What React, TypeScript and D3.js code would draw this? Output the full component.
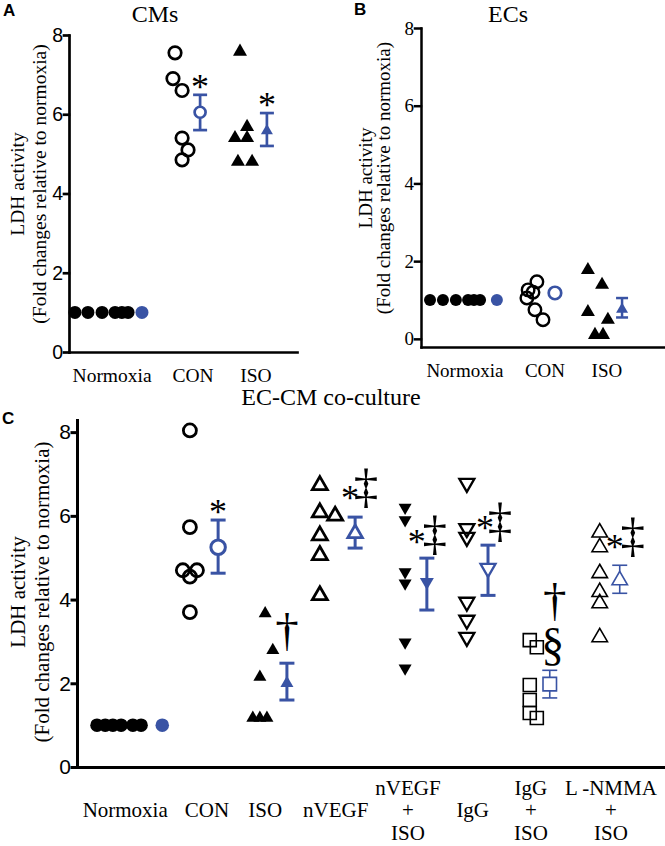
import React, { useEffect, useRef } from 'react';
import * as d3 from 'd3';

const BLUE = '#3953a4';
const SERIF = '"Liberation Serif", "Times New Roman", serif';
const SANS = '"Liberation Sans", Arial, sans-serif';

const yTicks = [0, 2, 4, 6, 8];

// ---------- Panel A: CMs ----------
const cmsLabels = [['Normoxia'], ['CON'], ['ISO']];
const cmsLabelX = [1.89, 5.44, 8.2];
const cmsNormoxiaX = [0.26, 0.83, 1.45, 2.02, 2.32, 2.59];
const cmsNormoxiaY = [1, 1, 1, 1, 1, 1];
const cmsConX = [4.65, 4.56, 4.96, 4.96, 5.22, 4.96];
const cmsConY = [7.55, 6.9, 6.6, 5.4, 5.1, 4.85];
const cmsIsoX = [7.5, 7.81, 7.28, 7.81, 7.41, 8.03];
const cmsIsoY = [7.58, 5.68, 5.4, 5.4, 4.8, 4.8];
const cmsMeanX = [3.2, 5.75, 8.68];
const cmsMeanY = [1.0, 6.05, 5.58];
const cmsErrLow = [1.0, 5.6, 5.2];
const cmsErrHigh = [1.0, 6.49, 6.03];

// ---------- Panel B: ECs ----------
const ecsLabels = [['Normoxia'], ['CON'], ['ISO']];
const ecsLabelX = [1.8, 5.08, 7.62];
const ecsNormoxiaX = [0.37, 0.9, 1.43, 1.93, 2.17, 2.42];
const ecsNormoxiaY = [1, 1, 1, 1, 1, 1];
const ecsConX = [4.75, 4.39, 4.59, 4.34, 4.67, 5.0];
const ecsConY = [1.47, 1.26, 1.2, 1.05, 0.75, 0.49];
const ecsIsoX = [6.84, 7.42, 6.84, 7.13, 7.46, 7.66];
const ecsIsoY = [1.77, 1.39, 0.69, 0.1, 0.1, 0.49];
const ecsMeanX = [3.11, 5.49, 8.24];
const ecsMeanY = [1.0, 1.18, 0.76];
const ecsErrLow = [1.0, 1.12, 0.55];
const ecsErrHigh = [1.0, 1.24, 1.05];

// ---------- Panel C: EC-CM co-culture ----------
const coLabels = [['Normoxia'], ['CON'], ['ISO'], ['nVEGF'], ['nVEGF', '+', 'ISO'], ['IgG'], ['IgG', '+', 'ISO'], ['L -NMMA', '+', 'ISO']];
const coLabelX = [0.82, 2.21, 3.2, 4.4, 5.63, 6.73, 7.72, 9.08];
const coNormoxiaX = [0.34, 0.48, 0.61, 0.75, 0.95, 1.09];
const coNormoxiaY = [1, 1, 1, 1, 1, 1];
const coConX = [1.92, 1.92, 1.8, 1.92, 2.04, 1.92];
const coConY = [8.04, 5.73, 4.7, 4.55, 4.7, 3.7];
const coIsoX = [3.2, 3.33, 3.11, 2.99, 3.11, 3.23];
const coIsoY = [3.67, 2.79, 2.15, 1.17, 1.17, 1.17];
const coVegfX = [4.13, 4.13, 4.39, 4.13, 4.13, 4.13];
const coVegfY = [6.73, 6.08, 6.0, 5.53, 5.06, 4.1];
const coVegfIsoX = [5.58, 5.58, 5.58, 5.58, 5.58, 5.58];
const coVegfIsoY = [6.2, 5.9, 4.66, 4.39, 2.98, 2.36];
const coIggX = [6.63, 6.63, 6.63, 6.63, 6.63, 6.63];
const coIggY = [6.78, 5.7, 5.49, 3.94, 3.51, 3.1];
const coIggIsoX = [7.7, 7.82, 7.7, 7.7, 7.7, 7.82];
const coIggIsoY = [3.03, 2.86, 1.96, 1.6, 1.29, 1.17];
const coNmmaX = [8.89, 8.89, 8.89, 8.89, 8.89, 8.89];
const coNmmaY = [5.6, 5.25, 4.63, 4.18, 3.91, 3.1];
const coMeanX = [1.45, 2.4, 3.57, 4.73, 5.95, 6.99, 8.04, 9.23];
const coMeanY = [1.0, 5.25, 2.0, 5.58, 4.42, 4.75, 1.98, 4.46];
const coErrLow = [1.0, 4.63, 1.6, 5.23, 3.75, 4.1, 1.65, 4.15];
const coErrHigh = [1.0, 5.9, 2.48, 5.97, 4.99, 5.3, 2.31, 4.82];

// marker styles
const dotA = { shape: 'circle', fill: true, size: 13 };
const ringA = { shape: 'circle', fill: false, size: 12.5, stroke: 2.7 };
const triA = { shape: 'triangle', fill: true, size: 14 };
const dotB = { shape: 'circle', fill: true, size: 12 };
const ringB = { shape: 'circle', fill: false, size: 12.5, stroke: 2.4 };
const triB = { shape: 'triangle', fill: true, size: 14 };
const dotC = { shape: 'circle', fill: true, size: 13.5 };
const ringC = { shape: 'circle', fill: false, size: 13, stroke: 2.8 };
const triC = { shape: 'triangle', fill: true, size: 13 };
const openTriC = { shape: 'triangle', fill: false, size: 15, stroke: 2.8 };
const downC = { shape: 'triangle', down: true, fill: true, size: 13 };
const openDownC = { shape: 'triangle', down: true, fill: false, size: 15, stroke: 2.3 };
const squareC = { shape: 'square', fill: false, size: 13, stroke: 1.6 };
const thinTriC = { shape: 'triangle', fill: false, size: 15.5, stroke: 1.6 };

const panels = [
  {
    title: 'CMs', titleX: 155, titleY: 22, titleSize: 24,
    letter: 'A', letterX: 3, letterY: 16,
    xRange: [69, 297], yDomain: [0, 8], yRange: [352, 35],
    tickFont: SANS, tickSize: 19.5, tickLen: 5, axisW: 2.7,
    ylab: { x1: 17.5, x2: 39.5, y: 184, size: 19.5 },
    labelFont: 19.5, labelY: 382, lineH: 24,
    labels: cmsLabels, labelX: cmsLabelX,
    errCap: 14, errW: 2.7,
    groups: [
      { xs: cmsNormoxiaX, ys: cmsNormoxiaY, m: dotA, mean: { ...dotA } },
      { xs: cmsConX, ys: cmsConY, m: ringA, mean: { ...ringA, size: 11 }, notes: [{ t: '*', dx: 0, dy: -13 }] },
      { xs: cmsIsoX, ys: cmsIsoY, m: triA, mean: { ...triA, size: 12 }, notes: [{ t: '*', dx: 0, dy: -13 }] },
    ],
    meanX: cmsMeanX, meanY: cmsMeanY, lo: cmsErrLow, hi: cmsErrHigh,
  },
  {
    title: 'ECs', titleX: 508, titleY: 22, titleSize: 24,
    letter: 'B', letterX: 354, letterY: 15,
    xRange: [421, 665], yDomain: [-0.21, 8], yRange: [347, 28],
    tickFont: SERIF, tickSize: 19, tickLen: 6, axisW: 2.5,
    ylab: { x1: 365, x2: 383, y: 178, size: 19 },
    labelFont: 19, labelY: 377, lineH: 24,
    labels: ecsLabels, labelX: ecsLabelX,
    errCap: 12, errW: 2.5,
    groups: [
      { xs: ecsNormoxiaX, ys: ecsNormoxiaY, m: dotB, mean: { ...dotB } },
      { xs: ecsConX, ys: ecsConY, m: ringB, mean: { ...ringB, stroke: 2.7 } },
      { xs: ecsIsoX, ys: ecsIsoY, m: triB, mean: { ...triB, size: 12 } },
    ],
    meanX: ecsMeanX, meanY: ecsMeanY, lo: ecsErrLow, hi: ecsErrHigh,
  },
  {
    title: 'EC-CM co-culture', titleX: 331, titleY: 405, titleSize: 24,
    letter: 'C', letterX: 2, letterY: 424,
    xRange: [77, 665], yDomain: [0, 8.29], yRange: [767, 420],
    tickFont: SANS, tickSize: 21, tickLen: 5, axisW: 3,
    ylab: { x1: 17.5, x2: 42, y: 592, size: 21 },
    labelFont: 21, labelY: 817, lineH: 22.5,
    labels: coLabels, labelX: coLabelX,
    errCap: 15, errW: 3,
    groups: [
      { xs: coNormoxiaX, ys: coNormoxiaY, m: dotC, mean: { ...dotC } },
      { xs: coConX, ys: coConY, m: ringC, mean: { ...ringC, size: 14.5, stroke: 3 }, notes: [{ t: '*', dx: 0, dy: -13 }] },
      { xs: coIsoX, ys: coIsoY, m: triC, mean: { ...triC, size: 13 }, notes: [{ t: '†', dx: 0, dy: -29 }] },
      { xs: coVegfX, ys: coVegfY, m: openTriC, mean: { ...openTriC, size: 14.5 }, notes: [{ t: '*', dx: -5, dy: -24 }, { t: '‡', dx: 11, dy: -28 }] },
      { xs: coVegfIsoX, ys: coVegfIsoY, m: downC, mean: { ...downC, size: 14 }, notes: [{ t: '*', dx: -10, dy: -21 }, { t: '‡', dx: 8, dy: -22 }] },
      { xs: coIggX, ys: coIggY, m: openDownC, mean: { ...openDownC }, notes: [{ t: '*', dx: -3, dy: -22 }, { t: '‡', dx: 12, dy: -22 }] },
      { xs: coIggIsoX, ys: coIggIsoY, m: squareC, mean: { ...squareC, size: 13.5 }, thin: true, notes: [{ t: '†', dx: 5, dy: -67 }, { t: '§', dx: 3, dy: -23 }] },
      { xs: coNmmaX, ys: coNmmaY, m: thinTriC, mean: { ...thinTriC }, thin: true, notes: [{ t: '*', dx: -5, dy: -23 }, { t: '‡', dx: 13, dy: -27 }] },
    ],
    meanX: coMeanX, meanY: coMeanY, lo: coErrLow, hi: coErrHigh,
  },
];

// glyph centre offset (fraction of font size above baseline)
const glyphLift = { '*': 0.47, '‡': 0.26, '†': 0.26, '§': 0.27 };
const glyphSize = { '*': 36, '‡': 49, '†': 47, '§': 46 };

function symbolPath(m) {
  if (m.shape === 'circle') return d3.symbol().type(d3.symbolCircle).size(Math.PI * (m.size / 2) ** 2)();
  if (m.shape === 'square') return d3.symbol().type(d3.symbolSquare).size(m.size * m.size)();
  return d3.symbol().type(d3.symbolTriangle).size((Math.sqrt(3) / 4) * m.size * m.size)();
}

function drawMarker(g, m, cx, cy, color, isMean) {
  g.append('path')
    .attr('d', symbolPath(m))
    .attr('transform', `translate(${cx},${cy})${m.down ? ' rotate(180)' : ''}`)
    .attr('fill', m.fill ? color : isMean ? '#fff' : 'none')
    .attr('stroke', m.fill ? 'none' : color)
    .attr('stroke-width', m.stroke || 0);
}

function drawPanel(svg, p) {
  const g = svg.append('g');
  const x = d3.scaleLinear().domain([0, 10]).range(p.xRange);
  const y = d3.scaleLinear().domain(p.yDomain).range(p.yRange);

  // Y axis
  const yAxis = g.append('g')
    .attr('transform', `translate(${p.xRange[0]},0)`)
    .call(d3.axisLeft(y).tickValues(yTicks).tickSize(p.tickLen).tickSizeOuter(0).tickPadding(1).tickFormat(d3.format('d')));
  yAxis.attr('font-family', p.tickFont).attr('font-size', p.tickSize);
  yAxis.selectAll('.domain, .tick line').attr('stroke', '#000').attr('stroke-width', p.axisW).attr('stroke-linecap', 'square');
  yAxis.selectAll('.tick text').attr('fill', '#000');

  // X axis
  const xAxis = g.append('g')
    .attr('transform', `translate(0,${y(p.yDomain[0])})`)
    .call(d3.axisBottom(x).tickValues([]).tickSizeOuter(0));
  xAxis.select('.domain').attr('stroke', '#000').attr('stroke-width', p.axisW).attr('stroke-linecap', 'square');

  // Category labels
  p.labels.forEach((lines, i) => {
    const t = g.append('text')
      .attr('text-anchor', 'middle')
      .attr('font-family', SERIF)
      .attr('font-size', p.labelFont)
      .attr('fill', '#000');
    const start = p.labelY - ((lines.length - 1) / 2) * p.lineH;
    lines.forEach((ln, j) => {
      t.append('tspan').attr('x', x(p.labelX[i])).attr('y', start + j * p.lineH).text(ln);
    });
  });

  // Y axis title
  const yl = g.append('g').attr('font-family', SERIF).attr('font-size', p.ylab.size).attr('fill', '#000');
  [['LDH activity', p.ylab.x1], ['(Fold changes relative to normoxia)', p.ylab.x2]].forEach(([txt, lx]) => {
    yl.append('text')
      .attr('transform', `translate(${lx},${p.ylab.y}) rotate(-90)`)
      .attr('text-anchor', 'middle')
      .attr('dominant-baseline', 'central')
      .text(txt);
  });

  // Title and panel letter
  g.append('text')
    .attr('x', p.titleX).attr('y', p.titleY)
    .attr('text-anchor', 'middle')
    .attr('font-family', SERIF).attr('font-size', p.titleSize)
    .text(p.title);
  g.append('text')
    .attr('x', p.letterX).attr('y', p.letterY)
    .attr('font-family', SANS).attr('font-weight', 'bold').attr('font-size', 17)
    .text(p.letter);

  // Points, means and error bars
  p.groups.forEach((grp, i) => {
    grp.xs.forEach((xv, k) => drawMarker(g, grp.m, x(xv), y(grp.ys[k]), '#000', false));

    const mx = x(p.meanX[i]);
    const cap = p.errCap;
    const w = grp.thin ? 1.6 : p.errW;
    if (p.hi[i] > p.lo[i]) {
      const eb = g.append('g').attr('stroke', BLUE).attr('stroke-width', w);
      eb.append('line').attr('x1', mx).attr('x2', mx).attr('y1', y(p.lo[i])).attr('y2', y(p.hi[i]));
      [p.lo[i], p.hi[i]].forEach(v => {
        eb.append('line').attr('x1', mx - cap / 2).attr('x2', mx + cap / 2).attr('y1', y(v)).attr('y2', y(v));
      });
    }
    drawMarker(g, grp.mean, mx, y(p.meanY[i]), BLUE, true);

    // significance marks: one text element per group, one tspan per glyph
    if (grp.notes) {
      const t = g.append('text')
        .attr('text-anchor', 'middle')
        .attr('font-family', SERIF)
        .attr('fill', '#000');
      grp.notes.forEach(n => {
        const fs = glyphSize[n.t];
        t.append('tspan')
          .attr('x', mx + n.dx)
          .attr('y', y(p.hi[i]) + n.dy + glyphLift[n.t] * fs)
          .attr('font-size', fs)
          .text(n.t);
      });
    }
  });
}

export default function App() {
  const svgRef = useRef(null);

  useEffect(() => {
    const svg = d3.select(svgRef.current);
    svg.selectAll('*').remove();
    panels.forEach(p => drawPanel(svg, p));
  }, []);

  return (
    <div style={{ position: 'absolute', left: 0, top: 0, background: '#fff' }}>
      <svg ref={svgRef} width={665} height={846} style={{ display: 'block' }}></svg>
    </div>
  );
}
